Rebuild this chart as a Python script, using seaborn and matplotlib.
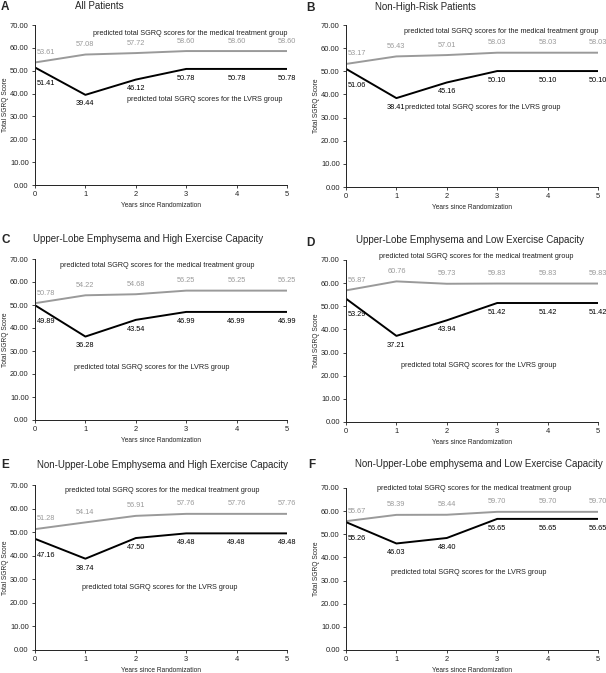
import pandas as pd
import matplotlib.pyplot as plt
import seaborn as sns

years = [0, 1, 2, 3, 4, 5]

letters = ['A', 'B', 'C', 'D', 'E', 'F']
titles = ['All Patients',
          'Non-High-Risk Patients',
          'Upper-Lobe Emphysema and High Exercise Capacity',
          'Upper-Lobe Emphysema and Low Exercise Capacity',
          'Non-Upper-Lobe Emphysema and High Exercise Capacity',
          'Non-Upper-Lobe emphysema and Low Exercise Capacity']

medical = [
    [53.61, 57.08, 57.72, 58.60, 58.60, 58.60],
    [53.17, 56.43, 57.01, 58.03, 58.03, 58.03],
    [50.78, 54.22, 54.68, 56.25, 56.25, 56.25],
    [56.87, 60.76, 59.73, 59.83, 59.83, 59.83],
    [51.28, 54.14, 56.91, 57.76, 57.76, 57.76],
    [55.67, 58.39, 58.44, 59.70, 59.70, 59.70],
]
lvrs = [
    [51.41, 39.44, 46.12, 50.78, 50.78, 50.78],
    [51.06, 38.41, 45.16, 50.10, 50.10, 50.10],
    [49.89, 36.28, 43.54, 46.99, 46.99, 46.99],
    [53.29, 37.21, 43.94, 51.42, 51.42, 51.42],
    [47.16, 38.74, 47.50, 49.48, 49.48, 49.48],
    [55.26, 46.03, 48.40, 56.65, 56.65, 56.65],
]

med_note = 'predicted total SGRQ scores for the medical treatment group'
lvrs_note = 'predicted total SGRQ scores for the LVRS group'

# layout (pixels): axes box left, top, right, bottom
W, H = 606, 673
boxes = [(35, 25, 287, 185), (346, 25, 598, 187),
         (35, 259, 287, 420), (346, 260, 598, 422),
         (35, 485, 287, 650), (346, 488, 598, 650)]
title_pos = [(75, 6), (375, 7), (33, 239), (356, 240), (37, 465), (355, 464)]
letter_pos = [(1, 7), (306, 8), (1, 240), (306, 243), (1, 465), (308, 465)]
# note positions in data coords: (x, y, ha)
med_note_pos = [(5.0, 66.5, 'right'), (5.0, 67, 'right'), (2.42, 67, 'center'),
                (2.58, 71.3, 'center'), (2.52, 67.5, 'center'), (2.54, 70, 'center')]
lvrs_note_pos = [(1.83, 37.6, 'left'), (1.17, 34.4, 'left'), (2.32, 23, 'center'),
                 (2.64, 24.6, 'center'), (2.48, 26.7, 'center'), (2.44, 33.3, 'center')]

sns.set_style('ticks')
plt.rcParams['font.family'] = ['Liberation Sans', 'DejaVu Sans']

GRAY = '#9a9a9a'
fig = plt.figure(figsize=(W / 100, H / 100), dpi=100)

for i in range(6):
    l, t, r, b = boxes[i]
    ax = fig.add_axes([l / W, 1 - b / H, (r - l) / W, (b - t) / H])
    df = pd.DataFrame({'year': years * 2,
                       'score': medical[i] + lvrs[i],
                       'group': ['medical'] * 6 + ['LVRS'] * 6})
    sns.lineplot(data=df, x='year', y='score', hue='group',
                 palette={'medical': GRAY, 'LVRS': 'black'},
                 linewidth=1.4, legend=False, ax=ax)
    ax.set_xlim(0, 5)
    ax.set_ylim(0, 70)
    ax.set_xticks(years)
    ax.set_yticks(range(0, 71, 10))
    ax.set_yticklabels(['%.2f' % v for v in range(0, 71, 10)])
    ax.tick_params(labelsize=5.4, length=2.5, width=0.6, pad=2, colors='#222222')
    for s in ['left', 'bottom']:
        ax.spines[s].set_linewidth(0.7)
        ax.spines[s].set_color('#222222')
    sns.despine(ax=ax)
    ax.set_xlabel('Years since Randomization', fontsize=4.8, labelpad=3)
    ax.set_ylabel('Total SGRQ Score', fontsize=4.8)
    ax.yaxis.set_label_coords(-26 / 252, 0.5)

    # value labels
    for j, x in enumerate(years):
        dx = 0.22 if j == 0 else 0
        ax.text(x + dx, medical[i][j] + 4.3, '%.2f' % medical[i][j], color=GRAY,
                fontsize=5.3, ha='center', va='center')
        dy = 7 if j == 0 else 4
        ax.text(x + dx, lvrs[i][j] - dy, '%.2f' % lvrs[i][j], color='black',
                fontsize=5.3, ha='center', va='center')

    mx, my, mha = med_note_pos[i]
    ax.text(mx, my, med_note, fontsize=5.2, ha=mha, va='center', color='#222222')
    lx, ly, lha = lvrs_note_pos[i]
    ax.text(lx, ly, lvrs_note, fontsize=5.2, ha=lha, va='center', color='#222222')

    tx, ty = title_pos[i]
    fig.text(tx / W, 1 - ty / H, titles[i], fontsize=7, ha='left', va='center')
    lx2, ly2 = letter_pos[i]
    fig.text(lx2 / W, 1 - ly2 / H, letters[i], fontsize=8.5, fontweight='bold',
             ha='left', va='center')

fig.savefig('out.png', dpi=100)
